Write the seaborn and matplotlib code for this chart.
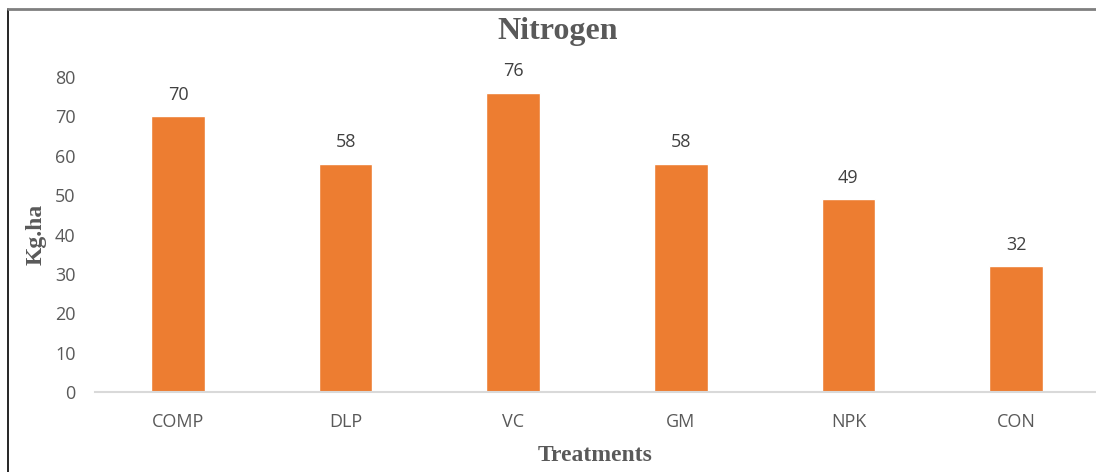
import matplotlib
matplotlib.use("Agg")
import matplotlib.pyplot as plt
import seaborn as sns
import pandas as pd
from matplotlib.lines import Line2D

treatments = ["COMP", "DLP", "VC", "GM", "NPK", "CON"]
nitrogen = [70, 58, 76, 58, 49, 32]

df = pd.DataFrame({"Treatment": treatments, "Nitrogen": nitrogen})

sns.set_style("white")
plt.rcParams["font.family"] = ["Open Sans", "DejaVu Sans"]

W, H = 1096, 472
fig = plt.figure(figsize=(W / 100, H / 100), dpi=100)
ax = fig.add_axes([95 / W, (H - 392) / H, (1096 - 95) / W, (392 - 77) / H])

sns.barplot(data=df, x="Treatment", y="Nitrogen", color="#ED7D31",
            width=0.32, saturation=1, ax=ax)

ax.set_xlim(-0.495, 5.477)
ax.set_ylim(0, 80)
ax.set_yticks(range(0, 81, 10))

for i, v in enumerate(nitrogen):
    ax.annotate(str(v), (i, v), xytext=(0, 9), textcoords="offset points",
                ha="center", va="bottom", fontsize=13, color="#404040",
                clip_on=False)

for s in ["top", "right", "left"]:
    ax.spines[s].set_visible(False)
ax.spines["bottom"].set_color("#D9D9D9")
ax.spines["bottom"].set_linewidth(1.5)

ax.tick_params(axis="both", length=0, labelsize=13, labelcolor="#595959")
ax.tick_params(axis="x", pad=15)
ax.tick_params(axis="y", pad=14)

serif = ["Liberation Serif", "DejaVu Serif"]
ax.set_xlabel("Treatments", fontsize=17, fontweight="bold", color="#595959",
              family=serif, labelpad=10)
ax.set_ylabel("Kg.ha", fontsize=17, fontweight="bold", color="#595959",
              family=serif, labelpad=6)
fig.text(558 / W, 1 - 31 / H, "Nitrogen", ha="center", va="center",
         fontsize=23, fontweight="bold", color="#595959", family=serif)

# outer frame lines (left and top)
fig.add_artist(Line2D([8 / W, 8 / W], [0, 1 - 9 / H], color="black", lw=1.2,
                      transform=fig.transFigure))
fig.add_artist(Line2D([8 / W, 1], [1 - 9 / H, 1 - 9 / H], color="#7F7F7F",
                      lw=2, transform=fig.transFigure))

fig.savefig("out.png", dpi=100)
